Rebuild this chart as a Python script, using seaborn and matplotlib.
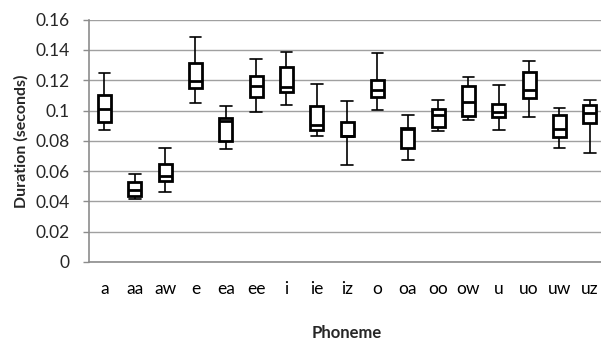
import numpy as np
import pandas as pd
import matplotlib
matplotlib.use("Agg")
import matplotlib.pyplot as plt
import seaborn as sns

# Five-number summaries of vowel duration (seconds) per phoneme
phonemes = ["a", "aa", "aw", "e", "ea", "ee", "i", "ie", "iz",
            "o", "oa", "oo", "ow", "u", "uo", "uw", "uz"]
whisker_low = [0.0874, 0.0414, 0.0460, 0.1048, 0.0749, 0.0989, 0.1039, 0.0832, 0.0639,
               0.1002, 0.0676, 0.0867, 0.0940, 0.0870, 0.0958, 0.0755, 0.0718]
q1 = [0.0925, 0.0438, 0.0535, 0.1149, 0.0797, 0.1090, 0.1123, 0.0870, 0.0830,
      0.1090, 0.0755, 0.0894, 0.0962, 0.0958, 0.1083, 0.0824, 0.0920]
median = [0.1009, 0.0478, 0.0566, 0.1196, 0.0933, 0.1160, 0.1154, 0.0905, 0.0834,
          0.1136, 0.0880, 0.0971, 0.1059, 0.0993, 0.1136, 0.0878, 0.0986]
q3 = [0.1100, 0.0528, 0.0647, 0.1312, 0.0949, 0.1226, 0.1288, 0.1030, 0.0925,
      0.1202, 0.0887, 0.1013, 0.1162, 0.1042, 0.1253, 0.0971, 0.1039]
whisker_high = [0.1250, 0.0579, 0.0753, 0.1486, 0.1032, 0.1341, 0.1389, 0.1174, 0.1065,
                0.1380, 0.0973, 0.1072, 0.1224, 0.1169, 0.1326, 0.1017, 0.1072]
y_ticks = [0, 0.02, 0.04, 0.06, 0.08, 0.1, 0.12, 0.14, 0.16]

# Long-form table: five values per phoneme reproduce each box and whisker
rows = []
for i, p in enumerate(phonemes):
    for v in (whisker_low[i], q1[i], median[i], q3[i], whisker_high[i]):
        rows.append({"Phoneme": p, "Duration": v})
df = pd.DataFrame(rows)

sns.set_style("white")
plt.rcParams["font.family"] = ["Lato", "DejaVu Sans"]

fig = plt.figure(figsize=(6.01, 3.42), dpi=100)
ax = fig.add_axes([89.3 / 601, 80 / 342, 515.7 / 601, 242.3 / 342])

sns.boxplot(data=df, x="Phoneme", y="Duration", order=phonemes, ax=ax,
            whis=(0, 100), width=0.43, color="white", linecolor="black",
            linewidth=1.0, showfliers=False,
            boxprops=dict(linewidth=2.0),
            medianprops=dict(linewidth=2.0, color="black"),
            whiskerprops=dict(linewidth=1.2),
            capprops=dict(linewidth=1.2),
            capwidths=0.38)

ax.set_xlim(-0.5, len(phonemes) - 0.5)
ax.set_ylim(0, 0.16)
ax.set_yticks(y_ticks)
ax.set_yticklabels([f"{t:g}" for t in y_ticks])
ax.yaxis.grid(True, color="#a0a0a0", linewidth=1.0)
ax.set_axisbelow(True)

for side in ("top", "right"):
    ax.spines[side].set_visible(False)
for side in ("left", "bottom"):
    ax.spines[side].set_color("#8c8c8c")
    ax.spines[side].set_linewidth(1.2)

# Category boundaries carry the tick marks; labels sit at the centres
ax.set_xticks(np.arange(len(phonemes)))
ax.set_xticklabels(phonemes)
ax.set_xticks(np.arange(-0.5, len(phonemes)), minor=True)
ax.tick_params(axis="x", which="major", length=0, pad=14, labelsize=12.5, colors="black")
ax.tick_params(axis="x", which="minor", length=5, width=1, color="#8c8c8c", direction="out")
ax.tick_params(axis="y", length=4, width=1, color="#8c8c8c", direction="out",
               labelsize=12.5, pad=10, left=True)

ax.set_xlabel("Phoneme", fontsize=12, fontweight="bold", labelpad=20)
ax.set_ylabel("Duration (seconds)", fontsize=11.5, fontweight="bold", labelpad=5)

fig.savefig("out.png", dpi=100)
